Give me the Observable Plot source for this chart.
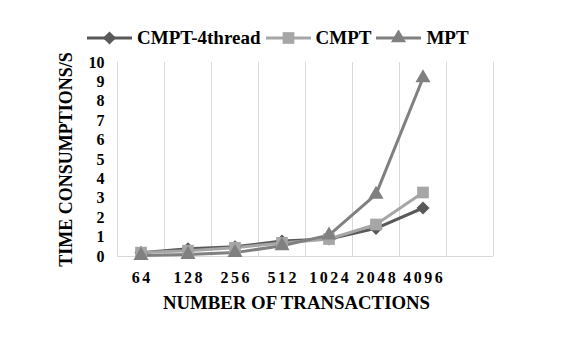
<!DOCTYPE html>
<html>
<head>
<meta charset="utf-8">
<script src="https://cdn.jsdelivr.net/npm/d3@7"></script>
<script src="https://cdn.jsdelivr.net/npm/@observablehq/plot@0.6"></script>
<style>
  body { margin: 0; background: white; }
  #wrap { position: relative; width: 584px; height: 341px; font-family: "Liberation Serif", "Times New Roman", serif; }
  #legend { position: absolute; left: 87px; top: 27px; display: flex; align-items: center; font-weight: bold; font-size: 19px; white-space: nowrap; }
  #legend .item { display: flex; align-items: center; margin-right: 5px; }
  #legend svg { display: block; margin-right: 5px; }
  .xt text { letter-spacing: 2.5px; }
</style>
</head>
<body>
<div id="wrap"><div id="legend"></div></div>
<script>
const categories = ["64", "128", "256", "512", "1024", "2048", "4096"];
const seriesNames = ["CMPT-4thread", "CMPT", "MPT"];
const cmpt4thread = [0.2, 0.4, 0.5, 0.8, 0.9, 1.45, 2.5];
const cmpt = [0.2, 0.3, 0.45, 0.7, 0.9, 1.65, 3.3];
const mpt = [0.05, 0.1, 0.2, 0.55, 1.1, 3.2, 9.2];
const yTicks = [0, 1, 2, 3, 4, 5, 6, 7, 8, 9, 10];
const colors = ["#595959", "#a6a6a6", "#808080"];
const symbols = ["diamond2", "square", "triangle"];
const radii = [5.9, 6.6, 5.6];
const seriesValues = [cmpt4thread, cmpt, mpt];

const nBands = categories.length + 1;
const rows = [];
seriesNames.forEach((s, k) => seriesValues[k].forEach((v, i) => rows.push({series: s, pos: i + 0.5, value: v})));

const plot = Plot.plot({
  width: 584, height: 341,
  marginLeft: 117, marginRight: 91, marginTop: 62, marginBottom: 85,
  x: {domain: [0, nBands], axis: null},
  y: {domain: [0, 10], axis: null},
  style: {fontFamily: "'Liberation Serif', 'Times New Roman', serif", background: "white", color: "black"},
  marks: [
    Plot.ruleX(d3.range(nBands + 1), {stroke: "#d9d9d9", strokeWidth: 1}),
    Plot.ruleY([0], {stroke: "#d9d9d9", strokeWidth: 1}),
    Plot.axisY(yTicks, {tickSize: 0, tickPadding: 13, fontSize: 16, fontWeight: "bold", label: null}),
    Plot.axisX(categories.map((c, i) => i + 0.5), {tickSize: 0, tickPadding: 15, fontSize: 16, fontWeight: "bold", label: null, tickFormat: d => categories[d - 0.5], className: "xt", dx: 1.25}),
    ...seriesNames.map((s, k) => Plot.line(rows.filter(r => r.series === s), {x: "pos", y: "value", stroke: colors[k], strokeWidth: 3})),
    ...seriesNames.map((s, k) => Plot.dot(rows.filter(r => r.series === s), {x: "pos", y: "value", symbol: () => symbols[k], fill: colors[k], stroke: "none", r: radii[k]})),
    Plot.text(["NUMBER OF TRANSACTIONS"], {frameAnchor: "bottom", textAnchor: "middle", dx: -9, dy: 46, lineAnchor: "middle", fontSize: 18.8, fontWeight: "bold", text: d => d}),
    Plot.text(["TIME CONSUMPTIONS/S"], {frameAnchor: "left", textAnchor: "middle", dx: -51, rotate: -90, lineAnchor: "middle", fontSize: 18, fontWeight: "bold", text: d => d})
  ]
});
document.getElementById("wrap").appendChild(plot);

// legend
const legend = document.getElementById("legend");
const symMap = {diamond2: d3.symbolDiamond2, square: d3.symbolSquare, triangle: d3.symbolTriangle};
seriesNames.forEach((s, k) => {
  const item = document.createElement("div");
  item.className = "item";
  const svg = d3.create("svg").attr("width", 45).attr("height", 16);
  svg.append("line").attr("x1", 0).attr("x2", 45).attr("y1", 8).attr("y2", 8).attr("stroke", colors[k]).attr("stroke-width", 3);
  svg.append("path").attr("transform", "translate(22.5,8)").attr("d", d3.symbol(symMap[symbols[k]], Math.PI * radii[k] * radii[k])()).attr("fill", colors[k]);
  item.appendChild(svg.node());
  const t = document.createElement("span");
  t.textContent = s;
  item.appendChild(t);
  legend.appendChild(item);
});
</script>
</body>
</html>
